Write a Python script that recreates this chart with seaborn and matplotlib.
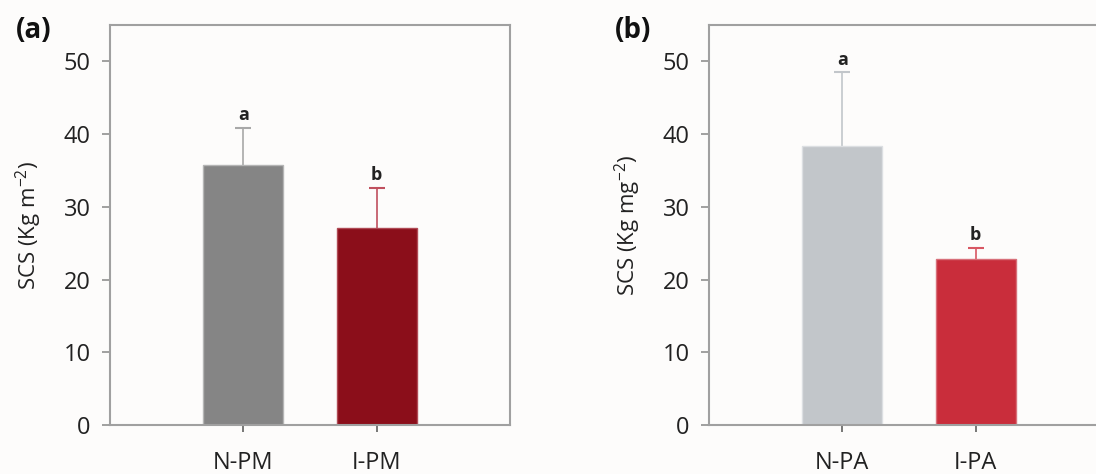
import matplotlib
matplotlib.use("Agg")
import matplotlib.pyplot as plt
import seaborn as sns
import pandas as pd

sns.set_theme(style="white")
plt.rcParams['font.family'] = ['Open Sans', 'DejaVu Sans']

# Data
cats_a = ["N-PM", "I-PM"]
vals_a = [35.7, 27.05]
errs_a = [5.2, 5.55]
sig_a = ["a", "b"]

cats_b = ["N-PA", "I-PA"]
vals_b = [38.3, 22.8]
errs_b = [10.2, 1.6]
sig_b = ["a", "b"]

colors_a = ["#858585", "#8B0E1A"]
edge_a = ["#b5b5b5", "#b04a55"]
errc_a = ["#a8a8a8", "#c0505e"]
colors_b = ["#C2C6CA", "#C92D3B"]
edge_b = ["#dcdfe2", "#d8707a"]
errc_b = ["#c2c6ca", "#d85763"]

ylabels = [r"SCS (Kg m$^{\mathregular{-2}}$)", r"SCS (Kg mg$^{\mathregular{-2}}$)"]
panel_tags = ["(a)", "(b)"]
yticks = [0, 10, 20, 30, 40, 50]

W, H = 1096, 474
fig = plt.figure(figsize=(W / 100, H / 100), dpi=100)
fig.patch.set_facecolor("#fdfcfb")

axes_px = [(110, 25, 400, 400), (709, 25, 400, 400)]
panels = [
    (cats_a, vals_a, errs_a, sig_a, colors_a, edge_a, errc_a),
    (cats_b, vals_b, errs_b, sig_b, colors_b, edge_b, errc_b),
]
tag_x = [16, 615]
ylab_pad = [14, 14]

for i, ((cats, vals, errs, sig, cols, edges, errc), (l, t, w, h)) in enumerate(zip(panels, axes_px)):
    ax = fig.add_axes([l / W, 1 - (t + h) / H, w / W, h / H])
    ax.set_facecolor("#fdfcfb")
    df = pd.DataFrame({"cat": cats, "val": vals})
    sns.barplot(data=df, x="cat", y="val", hue="cat", palette=cols, legend=False,
                width=0.6, ax=ax, order=cats, hue_order=cats, saturation=1, zorder=2)
    for p, ec in zip(ax.patches, edges):
        p.set_edgecolor(ec)
        p.set_linewidth(1.0)
    for j, (v, e, c, s) in enumerate(zip(vals, errs, errc, sig)):
        ax.errorbar(j, v, yerr=[[0], [e]], fmt="none", ecolor=c, elinewidth=1.2,
                    capsize=0, zorder=1)
        ax.plot([j], [v + e], marker="_", markersize=11, markeredgewidth=1.5,
                color=c, zorder=1)
        ax.text(j, v + e + 0.5, s, ha="center", va="bottom", fontsize=13,
                fontweight="bold", color="#222222")
    ax.set_xlim(-1, 2)
    ax.set_ylim(0, 55)
    ax.set_yticks(yticks)
    ax.set_yticklabels([str(y) for y in yticks])
    ax.set_xlabel("")
    ax.set_ylabel(ylabels[i], fontsize=16, color="#222222", labelpad=ylab_pad[i])
    for sp in ax.spines.values():
        sp.set_visible(True)
        sp.set_color("#a0a0a0")
        sp.set_linewidth(1.5)
    ax.tick_params(axis="y", direction="out", length=6, width=1.2, color="#909090",
                   labelsize=17, labelcolor="#222222", pad=8, left=True)
    ax.tick_params(axis="x", direction="out", length=5, width=1.2, color="#606060",
                   labelsize=17, labelcolor="#222222", pad=14, bottom=True)
    fig.text(tag_x[i] / W, 1 - 31 / H, panel_tags[i], fontsize=20, fontweight="bold",
             ha="left", va="center", color="#111111")

fig.savefig("out.png", dpi=100, facecolor=fig.get_facecolor())
